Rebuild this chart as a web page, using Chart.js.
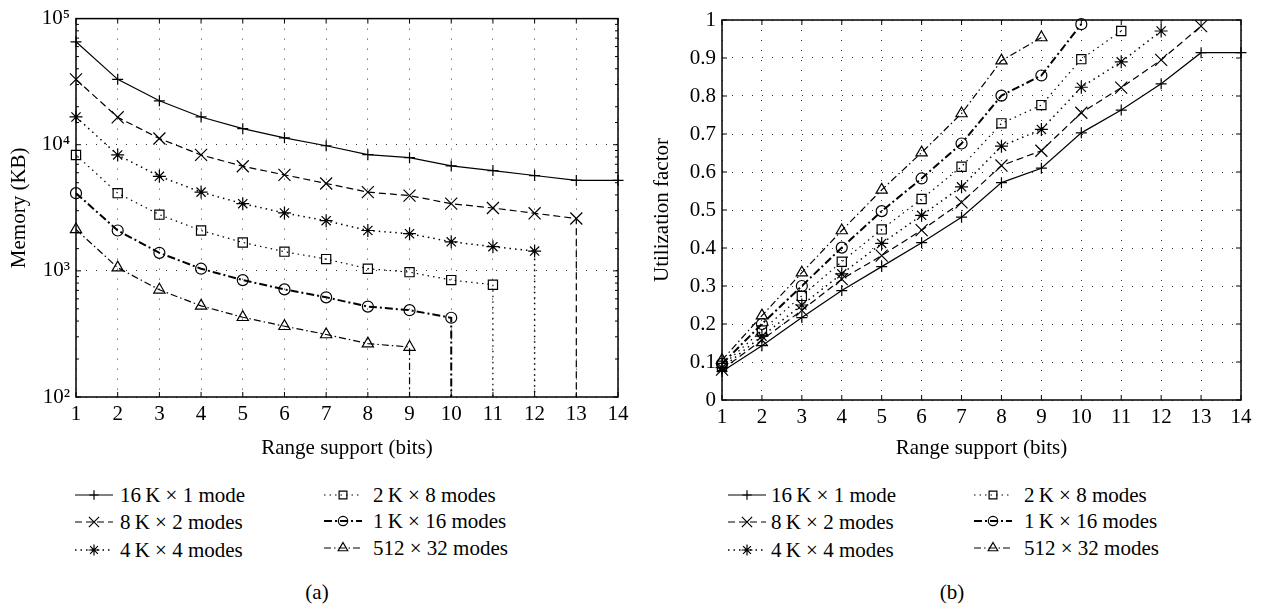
<!DOCTYPE html>
<html>
<head>
<meta charset="utf-8">
<script src="https://cdn.jsdelivr.net/npm/chart.js@4.4.0/dist/chart.umd.min.js"></script>
<style>
  body { margin: 0; background: #fff; width: 1261px; height: 608px; position: relative; overflow: hidden;
         font-family: "Liberation Serif", serif; color: #000; }
  canvas.chart { position: absolute; top: 0; }
  .item { position: absolute; height: 26px; white-space: nowrap; font-size: 21px; line-height: 26px; }
  .item canvas { position: absolute; left: 0; top: 0; }
  .item span { position: absolute; top: 0; }
  .cap { position: absolute; font-size: 21px; transform: translate(-50%, -50%); }
</style>
</head>
<body>
<canvas id="memChart" class="chart" width="640" height="470" style="left:0"></canvas>
<canvas id="utilChart" class="chart" width="621" height="470" style="left:640px"></canvas>
<div id="legends"></div>
<div class="cap" style="left:317px; top:592px">(a)</div>
<div class="cap" style="left:952px; top:592px">(b)</div>

<script>
// range support in bits (x axis)
const bits = [1, 2, 3, 4, 5, 6, 7, 8, 9, 10, 11, 12, 13, 14];

const seriesNames = ['16\u2009K × 1 mode', '8\u2009K × 2 modes', '4\u2009K × 4 modes',
                     '2\u2009K × 8 modes', '1\u2009K × 16 modes', '512 × 32 modes'];

// (a) memory in KB, one value per bit starting at 1
const mem16K = [65500, 33000, 22300, 16600, 13400, 11350, 9820, 8340, 7900, 6790, 6240, 5700, 5215, 5215];
const mem8K  = [33000, 16500, 11200, 8300, 6750, 5770, 4930, 4210, 3950, 3410, 3150, 2860, 2600];
const mem4K  = [16600, 8300, 5620, 4210, 3410, 2880, 2500, 2090, 1970, 1700, 1555, 1435];
const mem2K  = [8300, 4130, 2790, 2090, 1680, 1420, 1240, 1040, 977, 845, 777];
const mem1K  = [4130, 2090, 1390, 1040, 845, 713, 617, 521, 488, 425];
const mem512 = [2130, 1060, 708, 528, 429, 364, 313, 265, 249];
// memory falls off the axis past the last supported range (vertical drop)
const dropsToZero = [false, true, true, true, true, true];

// (b) utilization factor
const util16K = [0.075, 0.143, 0.217, 0.288, 0.351, 0.414, 0.481, 0.572, 0.610, 0.703, 0.763, 0.832, 0.914, 0.914];
const util8K  = [0.080, 0.158, 0.236, 0.318, 0.380, 0.447, 0.520, 0.617, 0.656, 0.756, 0.822, 0.895, 0.984];
const util4K  = [0.085, 0.168, 0.250, 0.332, 0.412, 0.486, 0.561, 0.668, 0.712, 0.823, 0.890, 0.971];
const util2K  = [0.090, 0.183, 0.274, 0.364, 0.449, 0.529, 0.614, 0.728, 0.776, 0.897, 0.971];
const util1K  = [0.095, 0.200, 0.300, 0.401, 0.497, 0.583, 0.675, 0.801, 0.854, 0.989];
const util512 = [0.105, 0.222, 0.335, 0.446, 0.553, 0.651, 0.754, 0.893, 0.954];

const memTicks = [100, 1000, 10000, 100000];
const supers = {'2': '\u00b2', '3': '\u00b3', '4': '\u2074', '5': '\u2075'};

// line / marker look per series
const styles = [
  {dash: [], width: 1.2, point: 'cross', r: 5.5},
  {dash: [7, 4], width: 1.2, point: 'crossRot', r: 8.5},
  {dash: [1.5, 4], width: 1.5, point: 'star', r: 6.5},
  {dash: [1.5, 4], width: 1.2, point: 'rect', r: 6.5},
  {dash: [8, 3, 2, 3], width: 2, point: 'circle', r: 5.5},
  {dash: [7, 3, 1.5, 3], width: 1.2, point: 'triangle', r: 6.5}
];

const FONT = "'Liberation Serif', serif";
const FS = 21;

function makeDatasets(lists, dropTo) {
  return lists.map((vals, i) => {
    const pts = vals.map((v, k) => ({x: bits[k], y: v}));
    if (dropTo !== undefined && dropsToZero[i]) pts.push({x: bits[vals.length - 1], y: dropTo, drop: true});
    const st = styles[i];
    return {
      label: seriesNames[i],
      data: pts,
      borderColor: '#000',
      borderWidth: st.width,
      borderDash: st.dash,
      pointStyle: st.point,
      pointRadius: c => (c.raw && c.raw.drop) ? 0 : st.r,
      pointBorderColor: '#000',
      pointBackgroundColor: 'rgba(0,0,0,0)',
      pointBorderWidth: 1.2,
      tension: 0,
      clip: false
    };
  });
}

function isDecade(v) {
  const l = Math.log10(v);
  return Math.abs(l - Math.round(l)) < 1e-9;
}

// box around plot and inward tick marks like the original
const frame = {
  id: 'frame',
  afterDraw(chart) {
    const {ctx, chartArea: a, scales: {x, y}} = chart;
    ctx.save();
    ctx.strokeStyle = '#000';
    ctx.lineWidth = 1;
    ctx.setLineDash([]);
    ctx.beginPath();
    x.ticks.forEach(t => {
      const px = x.getPixelForValue(t.value);
      ctx.moveTo(px, a.bottom); ctx.lineTo(px, a.bottom - 5);
      ctx.moveTo(px, a.top); ctx.lineTo(px, a.top + 5);
    });
    y.ticks.forEach(t => {
      const py = y.getPixelForValue(t.value);
      const len = (y.type === 'logarithmic' && !isDecade(t.value)) ? 3 : 5;
      ctx.moveTo(a.left, py); ctx.lineTo(a.left + len, py);
      ctx.moveTo(a.right, py); ctx.lineTo(a.right - len, py);
    });
    ctx.stroke();
    ctx.lineWidth = 1.5;
    ctx.strokeRect(a.left, a.top, a.right - a.left, a.bottom - a.top);
    ctx.restore();
  }
};

function xScale(h) {
  return {
    type: 'linear', min: 1, max: 14,
    afterFit: s => { s.height = h; },
    ticks: {stepSize: 1, autoSkip: false, maxRotation: 0, padding: 5, color: '#000', font: {family: FONT, size: FS}},
    grid: {color: '#333', drawTicks: false, lineWidth: 1},
    border: {display: false, dash: [1, 9]},
    title: {display: true, text: 'Range support (bits)', color: '#000', font: {family: FONT, size: FS},
            padding: {top: 0, bottom: 9}}
  };
}

new Chart(document.getElementById('memChart'), {
  type: 'line',
  data: {datasets: makeDatasets([mem16K, mem8K, mem4K, mem2K, mem1K, mem512], memTicks[0])},
  options: {
    responsive: false, animation: false, devicePixelRatio: 1,
    layout: {padding: {left: 0, right: 22, top: 16, bottom: 0}},
    plugins: {legend: {display: false}, tooltip: {enabled: false}},
    scales: {
      x: xScale(73),
      y: {
        type: 'logarithmic', min: memTicks[0], max: memTicks[memTicks.length - 1],
        afterFit: s => { s.width = 76; },
        ticks: {
          autoSkip: false, padding: 6, color: '#000', font: {family: FONT, size: FS},
          callback: v => isDecade(v) ? '10' + supers[String(Math.round(Math.log10(v)))] : ''
        },
        grid: {color: c => (c.tick && isDecade(c.tick.value)) ? '#333' : 'rgba(0,0,0,0)', drawTicks: false},
        border: {display: false, dash: [1, 9]},
        title: {display: true, text: 'Memory (KB)', color: '#000', font: {family: FONT, size: FS},
                padding: {top: 7, bottom: 0}}
      }
    }
  },
  plugins: [frame]
});

new Chart(document.getElementById('utilChart'), {
  type: 'line',
  data: {datasets: makeDatasets([util16K, util8K, util4K, util2K, util1K, util512])},
  options: {
    responsive: false, animation: false, devicePixelRatio: 1,
    layout: {padding: {left: 0, right: 20, top: 20, bottom: 0}},
    plugins: {legend: {display: false}, tooltip: {enabled: false}},
    scales: {
      x: xScale(70),
      y: {
        type: 'linear', min: 0, max: 1,
        afterFit: s => { s.width = 82; },
        ticks: {stepSize: 0.1, autoSkip: false, padding: 6, color: '#000', font: {family: FONT, size: FS},
                callback: v => String(Number(v.toFixed(1)))},
        grid: {color: '#333', drawTicks: false},
        border: {display: false, dash: [1, 9]},
        title: {display: true, text: 'Utilization factor', color: '#000', font: {family: FONT, size: FS},
                padding: {top: 10, bottom: 0}}
      }
    }
  },
  plugins: [frame]
});

// legends (two columns of three) under each panel
function drawSample(cv, st) {
  const c = cv.getContext('2d');
  const w = cv.width, h = cv.height;
  c.strokeStyle = '#000';
  c.lineWidth = st.width;
  c.setLineDash(st.dash);
  c.beginPath(); c.moveTo(0, h / 2); c.lineTo(w, h / 2); c.stroke();
  c.setLineDash([]);
  c.lineWidth = 1.2;
  c.fillStyle = 'rgba(0,0,0,0)';
  Chart.helpers.drawPoint(c, {pointStyle: st.point, radius: st.r * 0.85, borderWidth: 1.2, rotation: 0}, w / 2, h / 2);
}

function addLegend(cols, rows) {
  const box = document.getElementById('legends');
  seriesNames.forEach((name, i) => {
    const col = cols[Math.floor(i / 3)];
    const item = document.createElement('div');
    item.className = 'item';
    item.style.left = col.sample + 'px';
    item.style.top = (rows[Math.floor(i / 3)][i % 3] - 13) + 'px';
    const cv = document.createElement('canvas');
    cv.width = 38; cv.height = 26;
    item.appendChild(cv);
    const sp = document.createElement('span');
    sp.style.left = (col.text - col.sample) + 'px';
    sp.textContent = name;
    item.appendChild(sp);
    box.appendChild(item);
    drawSample(cv, styles[i]);
  });
}

addLegend([{sample: 75, text: 120}, {sample: 324, text: 373}], [[495, 522, 550], [495, 521, 548]]);
addLegend([{sample: 728, text: 771}, {sample: 974, text: 1024}], [[495, 522, 550], [495, 521, 548]]);
</script>
</body>
</html>
